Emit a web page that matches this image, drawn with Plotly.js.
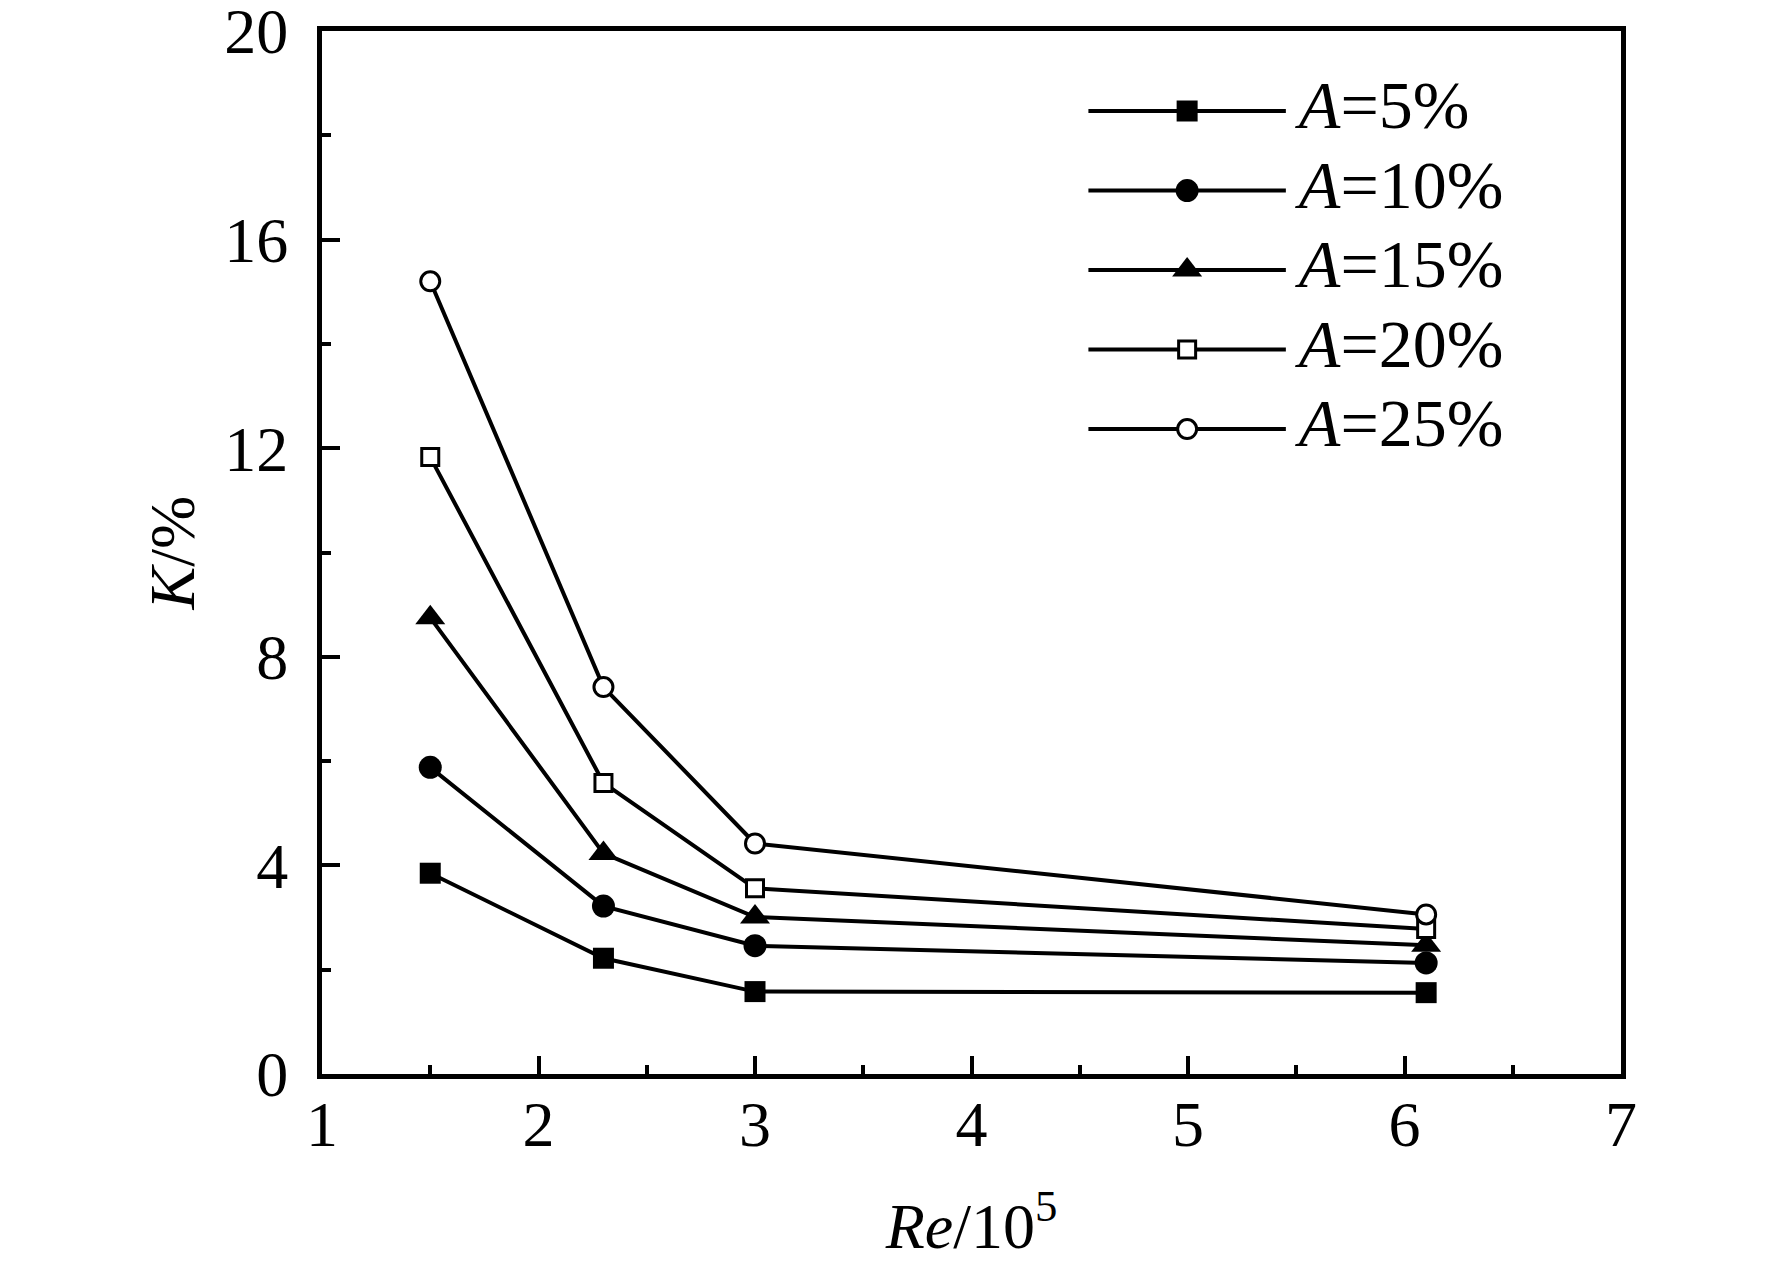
<!DOCTYPE html>
<html>
<head>
<meta charset="utf-8">
<script src="https://cdn.plot.ly/plotly-3.0.1.min.js"></script>
<style>
  body { margin: 0; background: #fff; }
  #chart { width: 1772px; height: 1262px; }
</style>
</head>
<body>
<div id="chart"></div>
<script>
// Re / 10^5
var re = [1.5, 2.3, 3.0, 6.1];

// K / % for each amplitude A
var k5  = [3.85, 2.22, 1.58, 1.56];
var k10 = [5.88, 3.22, 2.46, 2.13];
var k15 = [8.75, 4.23, 3.01, 2.47];
var k20 = [11.83, 5.58, 3.56, 2.78];
var k25 = [15.2, 7.42, 4.42, 3.06];

var names = ["<i>A</i>=5%", "<i>A</i>=10%", "<i>A</i>=15%", "<i>A</i>=20%", "<i>A</i>=25%"];
var series = [k5, k10, k15, k20, k25];

var FONT = "Times New Roman, Times, Liberation Serif, serif";

var markers = [
  { symbol: "square", size: 21, color: "#000", line: { width: 0 } },
  { symbol: "circle", size: 23, color: "#000", line: { width: 0 } },
  { symbol: "triangle-up", size: 26, color: "#000", line: { width: 0 } },
  { symbol: "square", size: 17, color: "#fff", line: { color: "#000", width: 3 } },
  { symbol: "circle", size: 19, color: "#fff", line: { color: "#000", width: 3 } }
];

var data = [];
series.forEach(function (k, i) {
  data.push({
    type: "scatter",
    mode: "lines+markers",
    x: re,
    y: k,
    name: names[i],
    line: { color: "#000", width: 4 },
    marker: markers[i],
    cliponaxis: false,
    showlegend: false
  });
});

// hand-made legend with long sample lines, on a hidden overlay axis
// rows are placed at y = -row (row 0 at the top)
series.forEach(function (k, i) {
  data.push({
    type: "scatter",
    mode: "lines+markers",
    xaxis: "x2", yaxis: "y2",
    x: [0.59, 0.666, 0.742],
    y: [-i, -i, -i],
    line: { color: "#000", width: 4 },
    marker: Object.assign({}, markers[i], { opacity: [0, 1, 0] }),
    hoverinfo: "skip",
    cliponaxis: false,
    showlegend: false
  });
  data.push({
    type: "scatter",
    mode: "text",
    xaxis: "x2", yaxis: "y2",
    x: [0.752],
    y: [-i],
    text: [names[i]],
    textposition: "middle right",
    textfont: { family: FONT, size: 68, color: "#000" },
    hoverinfo: "skip",
    cliponaxis: false,
    showlegend: false
  });
});

var layout = {
  width: 1772, height: 1262,
  margin: { l: 322, r: 151, t: 31, b: 188 },
  paper_bgcolor: "#fff",
  plot_bgcolor: "#fff",
  font: { family: FONT, color: "#000" },
  showlegend: false,
  xaxis: {
    range: [1, 7],
    dtick: 1,
    ticks: "inside", ticklen: 18, tickwidth: 4, tickcolor: "#000",
    minor: { dtick: 0.5, ticks: "inside", ticklen: 9, tickwidth: 4, tickcolor: "#000" },
    showline: true, linewidth: 5, linecolor: "#000", mirror: true,
    showgrid: false, zeroline: false,
    tickfont: { family: FONT, size: 64, color: "#000" },
    ticklabelstandoff: -10,
    ticklabeloverflow: "allow",
    title: { text: "<i>Re</i>/10<sup>5</sup>", font: { family: FONT, size: 64, color: "#000" }, standoff: 58 }
  },
  yaxis: {
    range: [0, 20],
    dtick: 4,
    ticks: "inside", ticklen: 18, tickwidth: 4, tickcolor: "#000",
    minor: { dtick: 2, ticks: "inside", ticklen: 9, tickwidth: 4, tickcolor: "#000" },
    showline: true, linewidth: 5, linecolor: "#000", mirror: true,
    showgrid: false, zeroline: false,
    tickfont: { family: FONT, size: 64, color: "#000" },
    ticklabelstandoff: 16,
    ticklabeloverflow: "allow",
    title: { text: "<i>K</i>/%", font: { family: FONT, size: 64, color: "#000" }, standoff: 10 }
  },
  xaxis2: { overlaying: "x", anchor: "y2", range: [0, 1], visible: false, fixedrange: true },
  yaxis2: { overlaying: "y", anchor: "x2", range: [-12.11, 1.006], visible: false, fixedrange: true }
};

var config = { displayModeBar: false, responsive: false, staticPlot: true };

Plotly.newPlot("chart", data, layout, config);
</script>
</body>
</html>
